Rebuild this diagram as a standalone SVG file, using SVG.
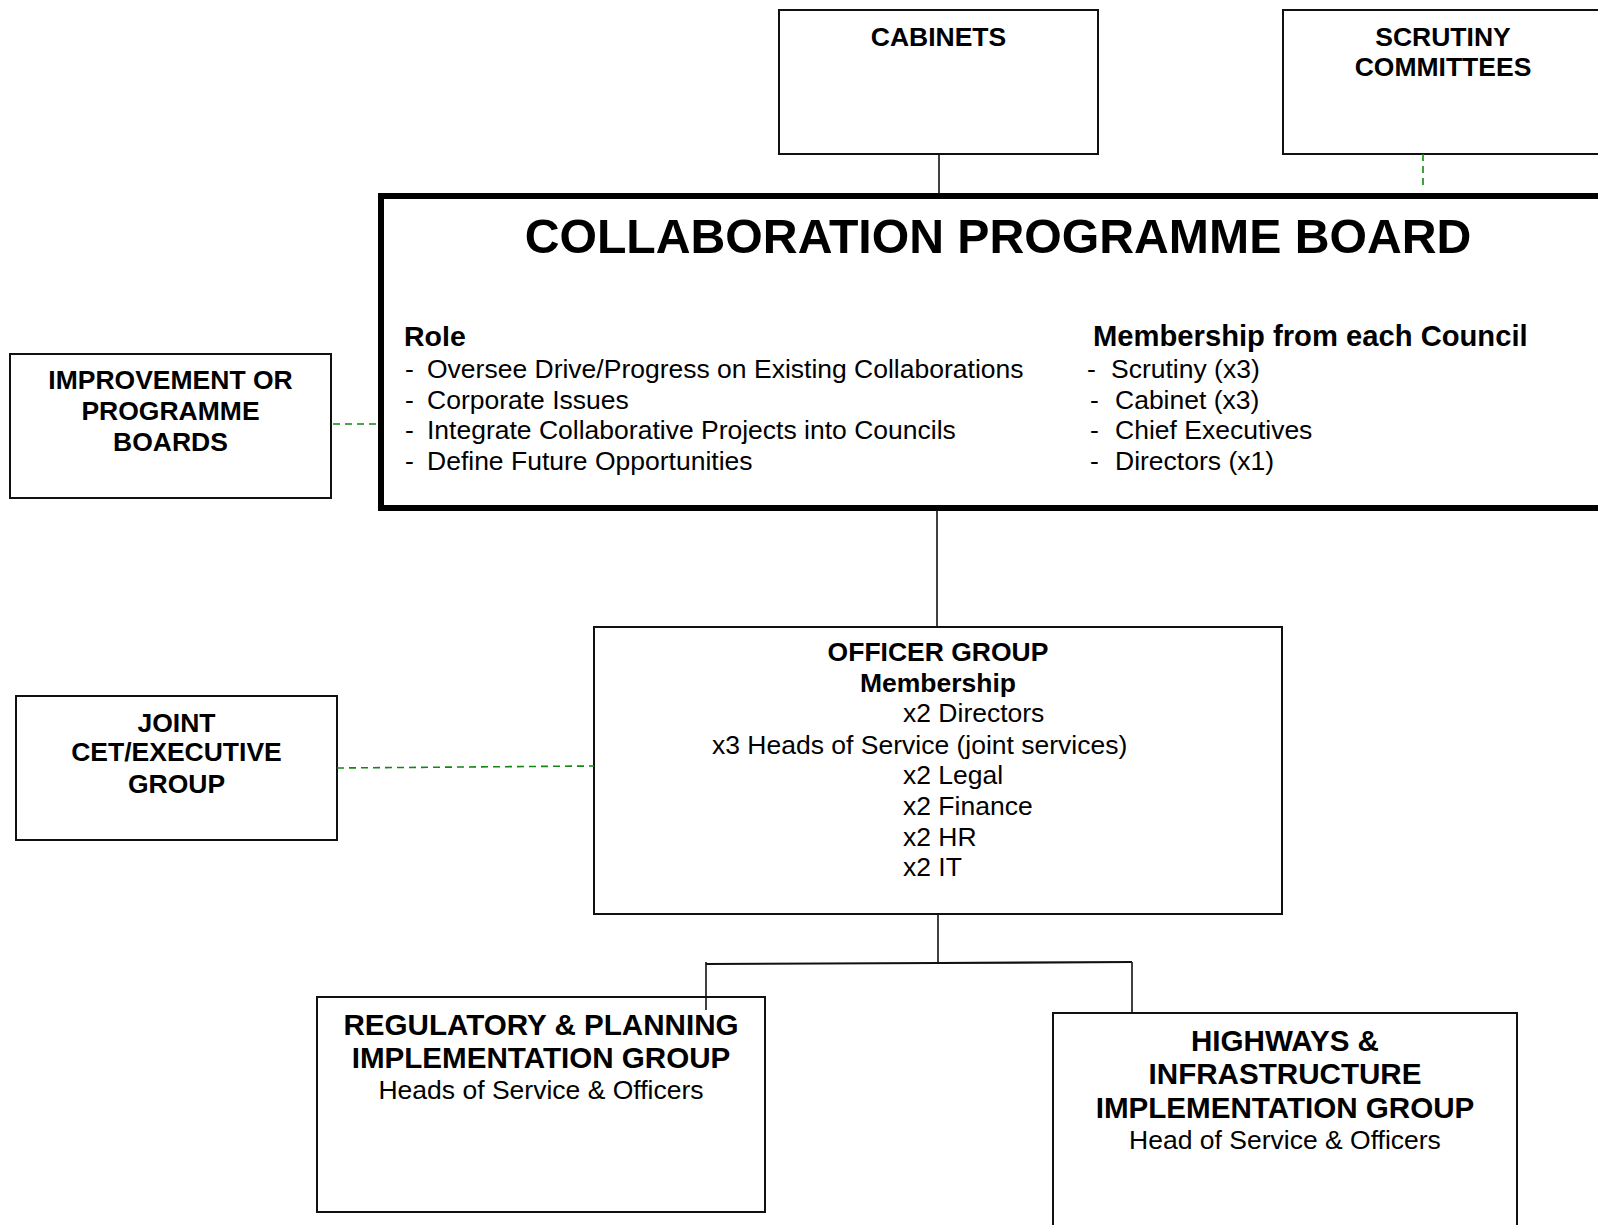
<svg xmlns="http://www.w3.org/2000/svg" width="1598" height="1225" viewBox="0 0 1598 1225">
  <style>
    text { font-family: "Liberation Sans", Arial, sans-serif; fill: #000; }
    .box { fill: #fff; stroke: #111; stroke-width: 2; }
    .board { fill: #fff; stroke: #000; stroke-width: 6; }
    .h { font-weight: bold; font-size: 26.5px; text-anchor: middle; }
    .hl { font-weight: bold; font-size: 29.6px; text-anchor: middle; }
    .t { font-size: 26.5px; }
    .tc { font-size: 26.5px; text-anchor: middle; }
    .sub { font-weight: bold; font-size: 28.5px; }
    .title { font-weight: bold; font-size: 48.2px; text-anchor: middle; }
    .solid { fill: none; stroke: #111; stroke-width: 1.6; }
    .dash { fill: none; stroke: #118811; stroke-width: 1.6; stroke-dasharray: 7 5; }
  </style>
  <rect width="1598" height="1225" fill="#fff"/>

  <g id="cabinets">
    <rect class="box" x="779" y="10" width="319" height="144"/>
    <text class="h" x="938.5" y="46">CABINETS</text>
  </g>

  <g id="scrutiny">
    <rect class="box" x="1283" y="10" width="330" height="144"/>
    <text class="h" x="1443" y="46">SCRUTINY</text>
    <text class="h" x="1443" y="76">COMMITTEES</text>
  </g>

  <g id="board">
    <rect class="board" x="381" y="196" width="1240" height="312"/>
    <text class="title" x="998" y="253">COLLABORATION PROGRAMME BOARD</text>
    <text class="sub" x="404" y="346">Role</text>
    <text class="t" x="405" y="378">-</text><text class="t" x="427" y="378">Oversee Drive/Progress on Existing Collaborations</text>
    <text class="t" x="405" y="408.5">-</text><text class="t" x="427" y="408.5">Corporate Issues</text>
    <text class="t" x="405" y="439">-</text><text class="t" x="427" y="439">Integrate Collaborative Projects into Councils</text>
    <text class="t" x="405" y="469.5">-</text><text class="t" x="427" y="469.5">Define Future Opportunities</text>
    <text class="sub" x="1093" y="346" style="font-size:29.2px">Membership from each Council</text>
    <text class="t" x="1087" y="378">-</text><text class="t" x="1111" y="378">Scrutiny (x3)</text>
    <text class="t" x="1090" y="408.5">-</text><text class="t" x="1115" y="408.5">Cabinet (x3)</text>
    <text class="t" x="1090" y="439">-</text><text class="t" x="1115" y="439">Chief Executives</text>
    <text class="t" x="1090" y="469.5">-</text><text class="t" x="1115" y="469.5">Directors (x1)</text>
  </g>

  <g id="improvement">
    <rect class="box" x="10" y="354" width="321" height="144"/>
    <text class="h" x="170.5" y="389">IMPROVEMENT OR</text>
    <text class="h" x="170.5" y="420">PROGRAMME</text>
    <text class="h" x="170.5" y="451">BOARDS</text>
  </g>

  <g id="joint">
    <rect class="box" x="16" y="696" width="321" height="144"/>
    <text class="h" x="176.5" y="732">JOINT</text>
    <text class="h" x="176.5" y="761">CET/EXECUTIVE</text>
    <text class="h" x="176.5" y="793">GROUP</text>
  </g>

  <g id="officer">
    <rect class="box" x="594" y="627" width="688" height="287"/>
    <text class="h" x="938" y="661">OFFICER GROUP</text>
    <text class="h" x="938" y="692">Membership</text>
    <text class="t" x="903" y="722">x2 Directors</text>
    <text class="t" x="712" y="753.5">x3 Heads of Service (joint services)</text>
    <text class="t" x="903" y="784">x2 Legal</text>
    <text class="t" x="903" y="815">x2 Finance</text>
    <text class="t" x="903" y="845.5">x2 HR</text>
    <text class="t" x="903" y="876">x2 IT</text>
  </g>

  <g id="regulatory">
    <rect class="box" x="317" y="997" width="448" height="215"/>
    <text class="hl" x="541" y="1035">REGULATORY &amp; PLANNING</text>
    <text class="hl" x="541" y="1068">IMPLEMENTATION GROUP</text>
    <text class="tc" x="541" y="1099">Heads of Service &amp; Officers</text>
  </g>

  <g id="highways">
    <rect class="box" x="1053" y="1013" width="464" height="230"/>
    <text class="hl" x="1285" y="1051">HIGHWAYS &amp;</text>
    <text class="hl" x="1285" y="1084">INFRASTRUCTURE</text>
    <text class="hl" x="1285" y="1118">IMPLEMENTATION GROUP</text>
    <text class="tc" x="1285" y="1149">Head of Service &amp; Officers</text>
  </g>

  <!-- connectors, drawn last so the drop into the regulatory box stays visible -->
  <g id="connectors">
    <line class="solid" x1="939" y1="154" x2="939" y2="194"/>
    <line class="dash" x1="1423" y1="154" x2="1423" y2="190"/>
    <line class="dash" x1="333" y1="424" x2="376" y2="424"/>
    <line class="solid" x1="937" y1="510" x2="937" y2="627"/>
    <line class="dash" x1="337" y1="768" x2="594" y2="766"/>
    <line class="solid" x1="938" y1="914" x2="938" y2="964"/>
    <polyline class="solid" style="stroke-width:2.2" points="706,964 938,963 1132,962"/>
    <line class="solid" x1="706" y1="962" x2="706" y2="1010"/>
    <line class="solid" x1="1132" y1="962" x2="1132" y2="1013"/>
  </g>
</svg>
